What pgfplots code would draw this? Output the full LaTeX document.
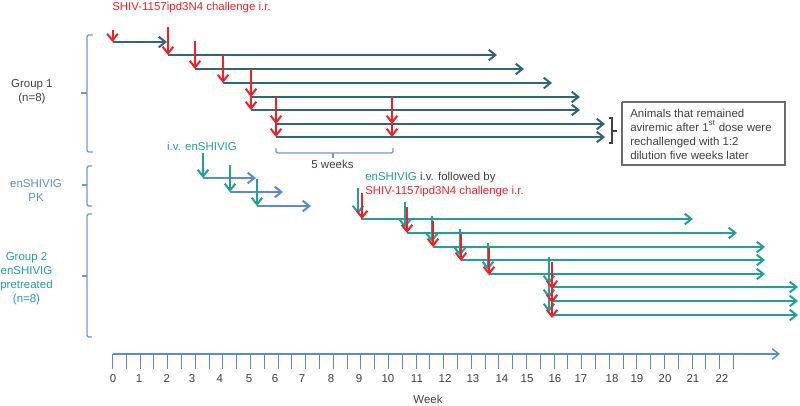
\documentclass[border=0pt]{standalone}
\usepackage{fontspec}
\setmainfont{Liberation Sans}
\usepackage{pgfplots}
\pgfplotsset{compat=1.18}
\usetikzlibrary{arrows.meta}
\definecolor{redc}{RGB}{242,32,38}
\definecolor{g1c}{RGB}{46,104,118}
\definecolor{tealc}{RGB}{31,160,152}
\definecolor{bluec}{RGB}{88,140,212}
\definecolor{brc}{RGB}{112,152,216}
\definecolor{grayc}{RGB}{64,64,64}
\tikzset{
  barb/.tip={Straight Barb[length=5pt,width=8pt]},
  g1line/.style={g1c,line width=1.5pt,-barb},
  g2line/.style={tealc,line width=1.5pt,-barb},
  pkline/.style={bluec,line width=1.5pt,-barb},
  redarr/.style={redc,line width=1.5pt,-barb},
  tealarr/.style={tealc,line width=1.5pt,-barb},
  brk/.style={brc,line width=1pt,rounded corners=1.5pt},
  lbl/.style={inner sep=0pt,font=\fontsize{8.6}{10.5}\selectfont},
}
\begin{document}
\begin{tikzpicture}
\begin{axis}[
  scale only axis, width=600pt, height=303.75pt,
  xmin=-4.0761, xmax=24.9094, ymin=0, ymax=405, y dir=reverse,
  hide axis, clip=false,
]
% ---------- Group 1 horizontal lines
\addplot[g1line] coordinates {(0,42) (1.975,42)};
\addplot[g1line] coordinates {(2.011,55) (13.931,55)};
\addplot[g1line] coordinates {(2.989,69) (14.909,69)};
\addplot[g1line] coordinates {(4.004,83) (15.924,83)};
\addplot[g1line] coordinates {(5.018,97) (16.938,97)};
\addplot[g1line] coordinates {(5.018,110) (16.938,110)};
\addplot[g1line] coordinates {(5.924,124) (17.844,124)};
\addplot[g1line] coordinates {(5.924,137) (17.844,137)};
% ---------- Group 1 challenges
\addplot[redarr] coordinates {(0,30) (0,42)};
\addplot[redarr] coordinates {(2.011,27) (2.011,55)};
\addplot[redarr] coordinates {(2.989,41) (2.989,69)};
\addplot[redarr] coordinates {(4.004,55) (4.004,83)};
\addplot[redarr] coordinates {(5.018,69) (5.018,97)};
\addplot[redarr] coordinates {(5.018,69) (5.018,110)};
\addplot[redarr] coordinates {(5.924,97) (5.924,124)};
\addplot[redarr] coordinates {(5.924,97) (5.924,137)};
\addplot[redarr] coordinates {(10.127,97) (10.127,124)};
\addplot[redarr] coordinates {(10.127,97) (10.127,137)};
% ---------- PK
\addplot[pkline] coordinates {(3.279,178) (5.199,178)};
\addplot[pkline] coordinates {(4.257,192) (6.178,192)};
\addplot[pkline] coordinates {(5.236,206) (7.192,206)};
\addplot[tealarr] coordinates {(3.279,153) (3.279,178)};
\addplot[tealarr] coordinates {(4.257,165) (4.257,192)};
\addplot[tealarr] coordinates {(5.236,179) (5.236,206)};
% ---------- Group 2 lines
\addplot[g2line] coordinates {(9.004,219) (21.033,219)};
\addplot[g2line] coordinates {(10.67,233) (22.627,233)};
\addplot[g2line] coordinates {(11.612,247) (23.641,247)};
\addplot[g2line] coordinates {(12.627,260) (23.641,260)};
\addplot[g2line] coordinates {(13.641,274) (23.641,274)};
\addplot[g2line] coordinates {(15.924,287) (24.837,287)};
\addplot[g2line] coordinates {(15.924,301) (24.837,301)};
\addplot[g2line] coordinates {(15.924,315) (24.837,315)};
% teal dosing arrows
\addplot[tealarr] coordinates {(8.895,188) (8.895,214)};
\addplot[tealarr] coordinates {(10.598,202) (10.598,228)};
\addplot[tealarr] coordinates {(11.576,216) (11.576,242)};
\addplot[tealarr] coordinates {(12.591,229) (12.591,256)};
\addplot[tealarr] coordinates {(13.605,243) (13.605,270)};
\addplot[tealarr] coordinates {(15.815,257) (15.815,284)};
\addplot[tealarr] coordinates {(15.815,257) (15.815,298)};
\addplot[tealarr] coordinates {(15.815,257) (15.815,312)};
% red challenges group 2
\addplot[redarr] coordinates {(9.04,193) (9.04,219)};
\addplot[redarr] coordinates {(10.67,207) (10.67,233)};
\addplot[redarr] coordinates {(11.612,221) (11.612,247)};
\addplot[redarr] coordinates {(12.627,234) (12.627,261)};
\addplot[redarr] coordinates {(13.641,248) (13.641,275)};
\addplot[redarr] coordinates {(15.924,262) (15.924,289)};
\addplot[redarr] coordinates {(15.924,262) (15.924,303)};
\addplot[redarr] coordinates {(15.924,262) (15.924,318)};
% ---------- brackets
\addplot[brk] coordinates {(-0.707,35) (-0.924,35) (-0.924,152) (-0.707,152)};
\addplot[brk,rounded corners=0pt] coordinates {(-0.924,93) (-1.141,93)};
\addplot[brk] coordinates {(-0.743,166) (-0.924,166) (-0.924,206) (-0.743,206)};
\addplot[brk,rounded corners=0pt] coordinates {(-0.924,185) (-1.105,185)};
\addplot[brk] coordinates {(-0.743,214) (-0.924,214) (-0.924,337) (-0.743,337)};
\addplot[brk,rounded corners=0pt] coordinates {(-0.924,276) (-1.105,276)};
\addplot[brk] coordinates {(5.924,148) (5.924,153) (10.163,153) (10.163,148)};
\addplot[brk,rounded corners=0pt] coordinates {(7.989,153) (7.989,158)};
\addplot[grayc,line width=0.9pt] coordinates {(17.989,118) (18.098,118) (18.098,143) (17.989,143)};
\addplot[grayc,line width=0.9pt] coordinates {(18.098,131) (18.279,131)};
% ---------- note box
\addplot[gray!85!black,line width=0.8pt] coordinates {(18.46,102) (24.366,102) (24.366,165) (18.46,165) (18.46,102)};
% ---------- time axis
\addplot[bluec,line width=1.1pt,-barb] coordinates {(0,354) (24.185,354)};
\pgfplotsinvokeforeach{0,0.5,...,22.5}{
  \addplot[bluec,line width=0.75pt] coordinates {(#1,354) (#1,369)};
}
\foreach \p/\t in {0.02/0,0.96/1,1.97/2,2.88/3,3.89/4,4.95/5,5.89/6,6.87/7,7.92/8,8.93/9,9.98/10,11.03/11,12.05/12,13.06/13,14.11/14,15.02/15,16.03/16,16.97/17,18.1/18,19.0/19,20.02/20,21.03/21,22.08/22}{
  \edef\tmp{\noexpand\node[lbl,grayc,anchor=base] at (axis cs:\p,382) {\t};}\tmp
}
\node[lbl,grayc,anchor=base] at (axis cs:11.43,403) {Week};
% ---------- text
\node[lbl,redc,anchor=base west] at (axis cs:-0.018,10.5) {SHIV-1157ipd3N4 challenge i.r.};
\node[lbl,grayc,align=center] at (axis cs:-2.92,92) {Group 1\\(n=8)};
\node[lbl,bluec,align=center] at (axis cs:-2.77,190) {enSHIVIG\\PK};
\node[lbl,tealc,align=center] at (axis cs:-3.116,279) {Group 2\\enSHIVIG\\pretreated\\(n=8)};
\node[lbl,tealc,anchor=base] at (axis cs:3.243,150) {i.v. enSHIVIG};
\node[lbl,grayc,anchor=base] at (axis cs:7.97,168) {5 weeks};
\node[lbl,grayc,anchor=base west] at (axis cs:9.149,180) {\textcolor{tealc}{enSHIVIG} i.v. followed by};
\node[lbl,redc,anchor=base west] at (axis cs:9.149,194) {SHIV-1157ipd3N4 challenge i.r.};
\node[lbl,grayc,anchor=north west,align=left] at (axis cs:18.75,108.5) {Animals that remained\\aviremic after 1\textsuperscript{st} dose were\\rechallenged with 1:2\\dilution five weeks later};
\end{axis}
\pgfresetboundingbox
\path[use as bounding box] (current axis.south west) rectangle (current axis.north east);
\end{tikzpicture}
\end{document}
